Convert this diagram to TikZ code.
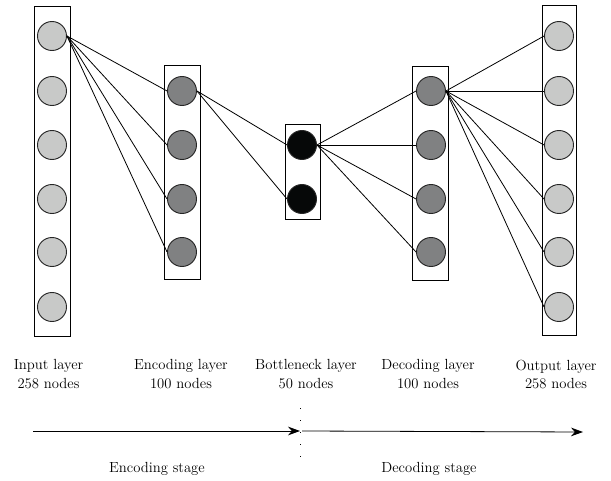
\documentclass[tikz,border=0pt]{standalone}
\usepackage{tikz}
\usetikzlibrary{arrows.meta}
\usepackage{xcolor}
\definecolor{lightneuron}{RGB}{200,201,200}
\definecolor{midneuron}{RGB}{128,129,130}
\definecolor{darkneuron}{RGB}{6,8,8}

\begin{document}
\begin{tikzpicture}[x=0.75pt, y=-0.75pt,
    layerbox/.style={draw, rectangle, line width=0.7pt, minimum width=27pt, inner sep=0pt},
    neuron/.style={draw=black!85, circle, line width=0.7pt, minimum size=21.75pt, inner sep=0pt},
    layertext/.style={align=center, font=\fontsize{11}{14.2}\selectfont},
    link/.style={line width=0.6pt}]
            \useasboundingbox (0,0) rectangle (611,481);

            % layer boxes
            \node[layerbox, minimum height=247.5pt] (inbox) at (52,171) {};
            \node[layerbox, minimum height=160.5pt] (encbox) at (182,172.5) {};
            \node[layerbox, minimum height=71.25pt, minimum width=26.25pt] (botbox) at (302.5,171.5) {};
            \node[layerbox, minimum height=160.5pt] (decbox) at (430.5,173.5) {};
            \node[layerbox, minimum height=247.5pt, minimum width=25.5pt] (outbox) at (559,170.5) {};

            % neurons
            \foreach \i/\y in {1/36,2/91,3/145,4/199,5/252,6/307} {
                \node[neuron, fill=lightneuron] (in\i) at (52,\y) {};
                \node[neuron, fill=lightneuron] (out\i) at (559,\y) {};
            }
            \foreach \i/\y in {1/91,2/145,3/199,4/252} {
                \node[neuron, fill=midneuron] (enc\i) at (182,\y) {};
                \node[neuron, fill=midneuron] (dec\i) at (431,\y) {};
            }
            \node[neuron, fill=darkneuron] (bot1) at (302,145) {};
            \node[neuron, fill=darkneuron] (bot2) at (302,199) {};

            % connections
            \foreach \i in {1,...,4} {
                \draw[link] (in1.east) -- (enc\i.west);
                \draw[link] (bot1.east) -- (dec\i.west);
            }
            \foreach \i in {1,2}
                \draw[link] (enc1.east) -- (bot\i.west);
            \foreach \i in {1,...,6}
                \draw[link] (dec1.east) -- (out\i.west);

            % labels
            \node[layertext] (inlabel) at (48.5,374.5) {Input layer\\258 nodes};
            \node[layertext] (enclabel) at (181,374.5) {Encoding layer\\100 nodes};
            \node[layertext] (botlabel) at (306,374.5) {Bottleneck layer\\50 nodes};
            \node[layertext] (declabel) at (428,374.5) {Decoding layer\\100 nodes};
            \node[layertext] (outlabel) at (556,374.5) {Output layer\\258 nodes};

            % stages
            \coordinate (encstart) at (33,431);
            \coordinate (stagemid) at (300,431);
            \coordinate (decend) at (583,432);
            \coordinate (divtop) at (300,408);
            \coordinate (divbottom) at (300,458);
            \draw[line width=0.6pt, -{Stealth[length=9pt, width=6.5pt]}] (encstart) -- (stagemid);
            \draw[line width=0.6pt, -{Stealth[length=9pt, width=6.5pt]}] ([xshift=1.5pt]stagemid) -- (decend);
            \draw[line width=0.7pt, dash pattern=on 0.6pt off 8.4pt] (divtop) -- (divbottom);
            \node[layertext] (encstage) at (157,469) {Encoding stage};
            \node[layertext] (decstage) at (429,469) {Decoding stage};
        \end{tikzpicture}
\end{document}
